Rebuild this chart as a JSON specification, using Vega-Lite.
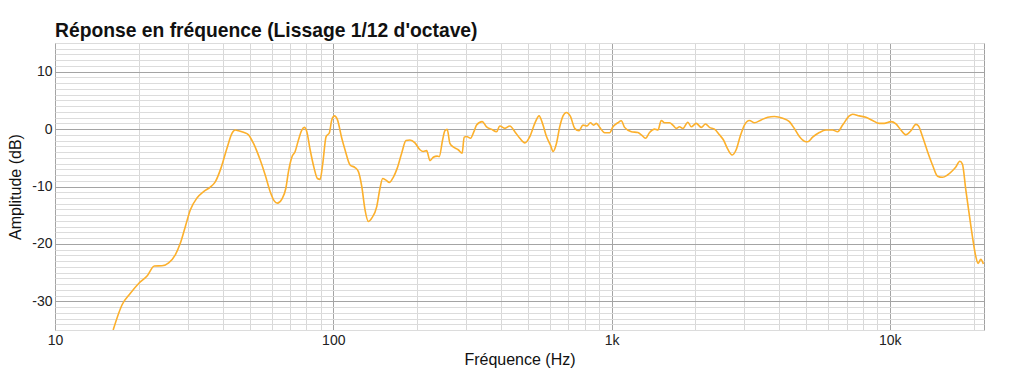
{
  "$schema": "https://vega.github.io/schema/vega-lite/v6.json",
  "width": 929,
  "height": 287,
  "autosize": {"type": "none"},
  "padding": {"left": 55, "top": 43, "right": 40, "bottom": 47},
  "background": "white",
  "title": {
    "text": "Réponse en fréquence (Lissage 1/12 d'octave)",
    "anchor": "start",
    "frame": "group",
    "font": "Liberation Sans",
    "fontSize": 19.3,
    "fontWeight": "bold",
    "color": "#111111",
    "offset": -5
  },
  "config": {
    "view": {"stroke": "#a0a0a0", "strokeWidth": 1},
    "axis": {
      "labelFont": "Liberation Sans",
      "titleFont": "Liberation Sans",
      "labelFontSize": 14,
      "titleFontSize": 16,
      "titleFontWeight": "normal",
      "labelColor": "#222222",
      "titleColor": "#111111",
      "ticks": false,
      "domain": false
    }
  },
  "data": {
    "values": [
      {"f": 16.18, "db": -35.0}, {"f": 17.42, "db": -30.6}, {"f": 18.66, "db": -28.6}, {"f": 19.98, "db": -26.9},
      {"f": 21.42, "db": -25.6}, {"f": 22.75, "db": -23.85}, {"f": 24.25, "db": -23.8}, {"f": 25.61, "db": -23.3},
      {"f": 27.06, "db": -21.9}, {"f": 28.2, "db": -19.9}, {"f": 29.39, "db": -17.0}, {"f": 30.63, "db": -14.1},
      {"f": 32.37, "db": -12.0}, {"f": 34.19, "db": -10.9}, {"f": 36.14, "db": -10.1}, {"f": 37.66, "db": -9.2},
      {"f": 39.48, "db": -6.8}, {"f": 41.49, "db": -3.35}, {"f": 43.24, "db": -0.74}, {"f": 44.44, "db": -0.16},
      {"f": 45.67, "db": -0.3}, {"f": 47.59, "db": -0.56}, {"f": 49.6, "db": -1.0}, {"f": 51.69, "db": -2.5},
      {"f": 54.64, "db": -5.4}, {"f": 56.94, "db": -8.0}, {"f": 59.34, "db": -10.9}, {"f": 61.34, "db": -12.5},
      {"f": 63.02, "db": -12.9}, {"f": 65.35, "db": -12.2}, {"f": 67.55, "db": -10.3}, {"f": 69.02, "db": -7.4},
      {"f": 70.98, "db": -4.9}, {"f": 72.94, "db": -3.9}, {"f": 74.96, "db": -1.9}, {"f": 77.09, "db": -0.16},
      {"f": 78.76, "db": 0.3}, {"f": 80.34, "db": -0.45}, {"f": 82.57, "db": -3.6}, {"f": 85.34, "db": -6.8},
      {"f": 87.7, "db": -8.6}, {"f": 89.66, "db": -8.75}, {"f": 91.69, "db": -5.96}, {"f": 94.23, "db": -1.3},
      {"f": 96.83, "db": -0.63}, {"f": 98.77, "db": 1.6}, {"f": 100.9, "db": 2.3}, {"f": 103.4, "db": 1.7},
      {"f": 107.3, "db": -1.6}, {"f": 110.2, "db": -3.6}, {"f": 114.9, "db": -6.25}, {"f": 119.7, "db": -6.7},
      {"f": 123.1, "db": -7.4}, {"f": 126.6, "db": -10.0}, {"f": 130.1, "db": -14.1}, {"f": 133.7, "db": -16.1},
      {"f": 137.5, "db": -15.5}, {"f": 143.3, "db": -13.5}, {"f": 147.2, "db": -10.3}, {"f": 150.5, "db": -8.6},
      {"f": 154.7, "db": -8.9}, {"f": 159.0, "db": -9.3}, {"f": 164.3, "db": -8.4}, {"f": 169.8, "db": -6.8},
      {"f": 176.1, "db": -4.2}, {"f": 182.5, "db": -2.0}, {"f": 188.6, "db": -1.9}, {"f": 196.6, "db": -2.4},
      {"f": 204.9, "db": -3.6}, {"f": 210.6, "db": -3.9}, {"f": 216.6, "db": -3.75}, {"f": 222.6, "db": -5.5},
      {"f": 228.7, "db": -4.9}, {"f": 236.4, "db": -4.7}, {"f": 240.3, "db": -4.8}, {"f": 247.1, "db": -1.9},
      {"f": 251.8, "db": -0.3}, {"f": 256.7, "db": -0.04}, {"f": 262.5, "db": -2.5}, {"f": 269.7, "db": -3.1},
      {"f": 281.1, "db": -3.6}, {"f": 290.5, "db": -4.2}, {"f": 295.4, "db": -1.4}, {"f": 301.3, "db": -1.3},
      {"f": 311.5, "db": -1.6}, {"f": 320.1, "db": -0.45}, {"f": 327.3, "db": 0.7}, {"f": 342.8, "db": 1.3},
      {"f": 355.5, "db": 0.4}, {"f": 370.5, "db": -0.04}, {"f": 386.1, "db": -0.45}, {"f": 396.8, "db": 0.54},
      {"f": 413.5, "db": 0.13}, {"f": 431.0, "db": 0.54}, {"f": 449.2, "db": -0.45}, {"f": 468.2, "db": -1.6},
      {"f": 487.9, "db": -2.4}, {"f": 508.5, "db": -1.3}, {"f": 529.9, "db": 1.0}, {"f": 549.1, "db": 2.3},
      {"f": 564.7, "db": 1.0}, {"f": 583.7, "db": -1.3}, {"f": 603.3, "db": -2.8}, {"f": 616.4, "db": -3.9},
      {"f": 633.9, "db": -2.5}, {"f": 651.4, "db": 0.4}, {"f": 669.4, "db": 2.3}, {"f": 688.5, "db": 2.9},
      {"f": 711.7, "db": 2.2}, {"f": 737.4, "db": 0.13}, {"f": 763.9, "db": -0.3}, {"f": 789.6, "db": 0.7},
      {"f": 816.0, "db": 0.54}, {"f": 839.3, "db": 1.1}, {"f": 862.6, "db": 0.7}, {"f": 882.1, "db": 1.0},
      {"f": 906.4, "db": 0.3}, {"f": 944.6, "db": -0.63}, {"f": 984.5, "db": -0.63}, {"f": 1011.6, "db": 0.4},
      {"f": 1054, "db": 1.1}, {"f": 1084, "db": 1.45}, {"f": 1114, "db": 0.3}, {"f": 1178, "db": -0.45},
      {"f": 1243, "db": -0.6}, {"f": 1279, "db": -1.0}, {"f": 1325, "db": -1.6}, {"f": 1370, "db": -0.6},
      {"f": 1428, "db": 0.0}, {"f": 1468, "db": -0.16}, {"f": 1509, "db": 1.5}, {"f": 1551, "db": 1.1},
      {"f": 1616, "db": 1.1}, {"f": 1661, "db": 0.7}, {"f": 1708, "db": 0.13}, {"f": 1755, "db": 0.4},
      {"f": 1804, "db": 0.1}, {"f": 1880, "db": 1.2}, {"f": 1934, "db": 0.4}, {"f": 2015, "db": 1.0},
      {"f": 2101, "db": 0.3}, {"f": 2176, "db": 0.9}, {"f": 2249, "db": 0.3}, {"f": 2344, "db": 0.0},
      {"f": 2443, "db": -1.0}, {"f": 2525, "db": -1.9}, {"f": 2616, "db": -3.5}, {"f": 2713, "db": -4.5},
      {"f": 2804, "db": -3.6}, {"f": 2898, "db": -1.3}, {"f": 3003, "db": 0.7}, {"f": 3130, "db": 1.5},
      {"f": 3262, "db": 1.1}, {"f": 3448, "db": 1.6}, {"f": 3642, "db": 2.05}, {"f": 3849, "db": 2.2},
      {"f": 4121, "db": 1.9}, {"f": 4356, "db": 1.3}, {"f": 4539, "db": 0.1}, {"f": 4731, "db": -1.3},
      {"f": 4931, "db": -2.1}, {"f": 5067, "db": -2.2}, {"f": 5280, "db": -1.4}, {"f": 5580, "db": -0.6},
      {"f": 5897, "db": -0.16}, {"f": 6230, "db": -0.16}, {"f": 6493, "db": -0.45}, {"f": 6767, "db": 0.7},
      {"f": 7152, "db": 2.3}, {"f": 7350, "db": 2.6}, {"f": 7768, "db": 2.3}, {"f": 8210, "db": 2.05},
      {"f": 8669, "db": 1.5}, {"f": 9163, "db": 1.0}, {"f": 9548, "db": 1.0}, {"f": 10090, "db": 1.3},
      {"f": 10517, "db": 0.9}, {"f": 10960, "db": -0.16}, {"f": 11423, "db": -1.0}, {"f": 11906, "db": -0.3},
      {"f": 12410, "db": 0.83}, {"f": 12679, "db": 0.54}, {"f": 13104, "db": -1.3}, {"f": 13658, "db": -3.9},
      {"f": 14234, "db": -6.25}, {"f": 14834, "db": -8.2}, {"f": 15460, "db": -8.4}, {"f": 16106, "db": -8.0},
      {"f": 16788, "db": -7.25}, {"f": 17266, "db": -6.6}, {"f": 17846, "db": -5.6}, {"f": 18235, "db": -6.1},
      {"f": 18754, "db": -10.6}, {"f": 19272, "db": -14.7}, {"f": 19806, "db": -18.7}, {"f": 20370, "db": -22.2},
      {"f": 20760, "db": -23.4}, {"f": 21230, "db": -22.7}, {"f": 21690, "db": -23.5}
    ]
  },
  "mark": {"type": "line", "color": "#fcb02c", "strokeWidth": 1.6, "clip": true, "interpolate": "monotone"},
  "encoding": {
    "x": {
      "field": "f",
      "type": "quantitative",
      "scale": {"type": "log", "domain": [10, 21800], "nice": false},
      "axis": {
        "title": "Fréquence (Hz)",
        "values": [10, 20, 30, 40, 50, 60, 70, 80, 90, 100, 200, 300, 400, 500, 600, 700, 800, 900, 1000, 2000, 3000, 4000, 5000, 6000, 7000, 8000, 9000, 10000, 20000],
        "labelExpr": "datum.value === 10 ? '10' : datum.value === 100 ? '100' : datum.value === 1000 ? '1k' : datum.value === 10000 ? '10k' : ''",
        "labelOverlap": false,
        "labelFlush": false,
        "labelPadding": 3,
        "titlePadding": 4,
        "grid": true,
        "gridColor": {"condition": {"test": "datum.value === 10 || datum.value === 100 || datum.value === 1000 || datum.value === 10000", "value": "#a4a4a4"}, "value": "#d8d8d8"},
        "gridWidth": 1
      }
    },
    "y": {
      "field": "db",
      "type": "quantitative",
      "scale": {"domain": [-35, 15], "nice": false, "zero": false},
      "axis": {
        "title": "Amplitude (dB)",
        "values": [-35, -34, -33, -32, -31, -30, -29, -28, -27, -26, -25, -24, -23, -22, -21, -20, -19, -18, -17, -16, -15, -14, -13, -12, -11, -10, -9, -8, -7, -6, -5, -4, -3, -2, -1, 0, 1, 2, 3, 4, 5, 6, 7, 8, 9, 10, 11, 12, 13, 14, 15],
        "labelExpr": "datum.value % 10 === 0 ? '' + datum.value : ''",
        "labelOverlap": false,
        "labelFlush": false,
        "labelPadding": 3,
        "titlePadding": 8,
        "grid": true,
        "gridColor": {"condition": {"test": "datum.value % 10 === 0", "value": "#a4a4a4"}, "value": "#dcdcdc"},
        "gridWidth": 1
      }
    }
  }
}
